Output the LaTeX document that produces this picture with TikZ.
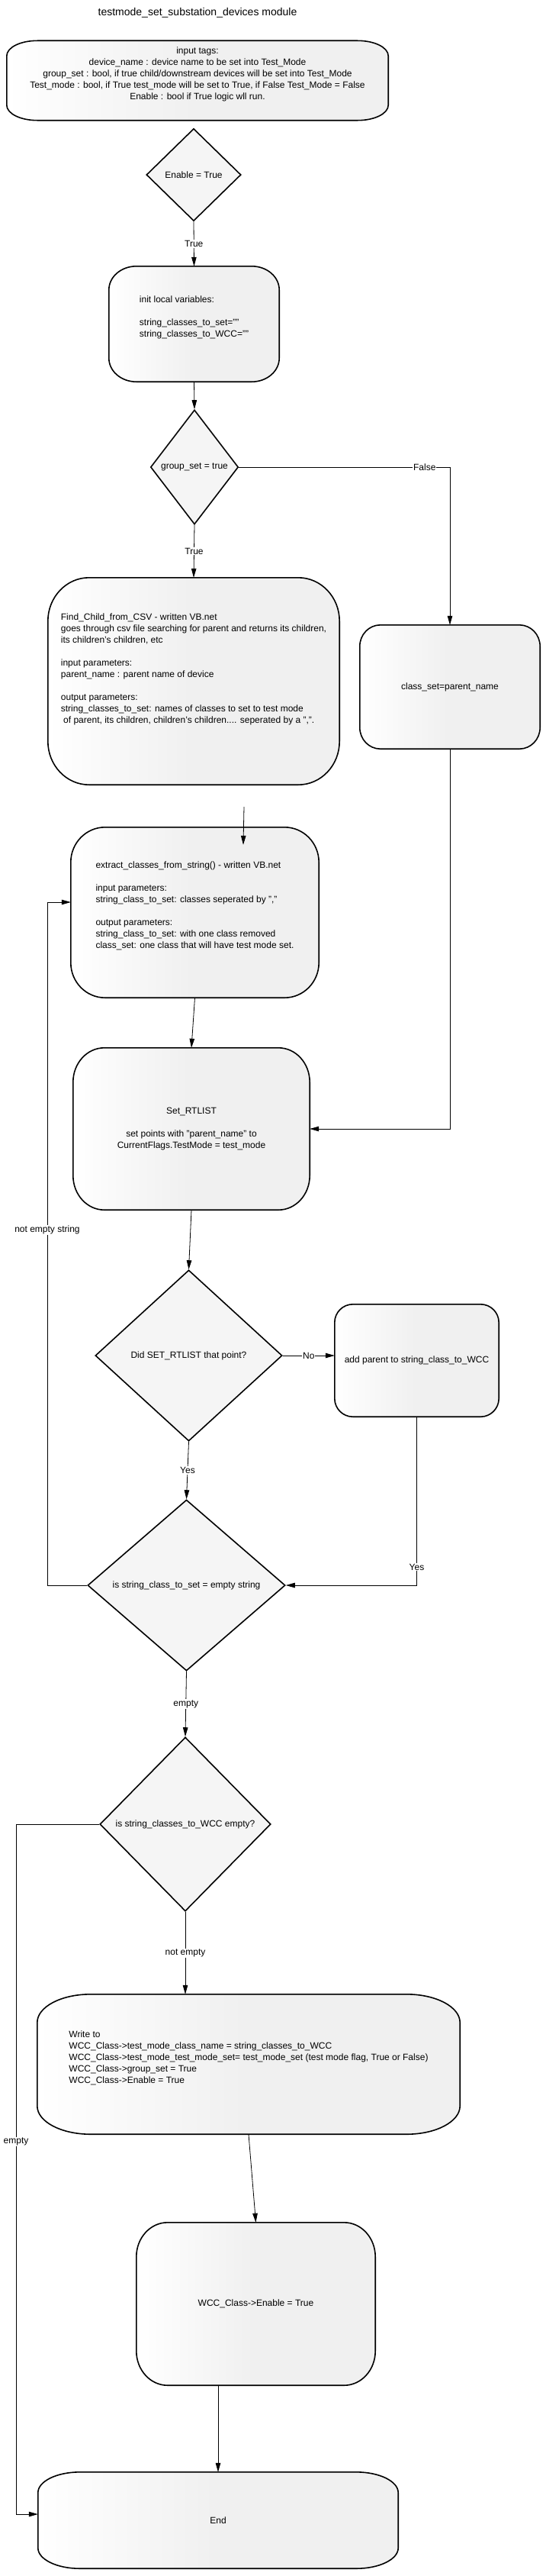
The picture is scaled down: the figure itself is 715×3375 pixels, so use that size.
\documentclass[tikz,border=0pt]{standalone}
\usepackage{fontspec}
\setmainfont{Liberation Sans}
\usetikzlibrary{calc,arrows.meta,shapes.geometric}
\pgfdeclarelayer{cards}
\pgfsetlayers{cards,main}

\tikzset{
  every node/.style={font=\fontsize{12}{15}\selectfont},
  cardtext/.style={inner sep=0pt},
  cardline/.style={draw=black, line width=1.6pt, left color=white, right color=black!6, middle color=black!6},
  decision/.style={diamond, draw=black, line width=1.6pt, fill=black!4, inner sep=0pt},
  flow/.style={line width=0.8pt, -{Triangle[length=12pt,width=6.5pt]}},
  flowlabel/.style={fill=white, inner sep=1pt},
}

% outline of a card with elliptic corners: node, rx, ry
\newcommand{\cardoutline}[3]{%
  \begin{pgfonlayer}{cards}
  \path[cardline] ($(#1.north west)+(#2,0)$) -- ($(#1.north east)+(-#2,0)$)
    arc[start angle=90, end angle=0, x radius=#2pt, y radius=#3pt]
    -- ($(#1.south east)+(0,#3)$)
    arc[start angle=0, end angle=-90, x radius=#2pt, y radius=#3pt]
    -- ($(#1.south west)+(#2,0)$)
    arc[start angle=270, end angle=180, x radius=#2pt, y radius=#3pt]
    -- ($(#1.north west)+(0,-#3)$)
    arc[start angle=180, end angle=90, x radius=#2pt, y radius=#3pt]
    -- cycle;
  \end{pgfonlayer}}

\begin{document}
\begin{tikzpicture}[x=1pt, y=1pt]
  \useasboundingbox (0,0) rectangle (715,-3375);

  % ---- title ----
  \node[font=\fontsize{14}{17}\selectfont] (title) at (259,-17) {testmode\_set\_substation\_devices module};

  % ---- input tags ----
  \node[cardtext, minimum width=500, minimum height=104, align=center] (intags) at (259,-105.5)
    {input tags:\\
     device\_name : device name to be set into Test\_Mode\\
     group\_set : bool, if true child/downstream devices will be set into Test\_Mode\\
     Test\_mode : bool, if True test\_mode will be set to True, if False Test\_Mode = False\\
     Enable : bool if True logic wll run.\\\strut};
  \cardoutline{intags}{40}{20}

  \node[decision, minimum width=124, minimum height=121] (enabletrue) at (254,-229) {Enable = True};

  % ---- init ----
  \node[cardtext, minimum width=223, minimum height=151, align=left] (initvars) at (254.5,-424.5)
    {init local variables:\\[15pt]
     string\_classes\_to\_set=""\\
     string\_classes\_to\_WCC=""\\\strut};
  \cardoutline{initvars}{36}{31}

  \node[decision, minimum width=115, minimum height=150] (groupset) at (255,-612) {group\_set = true};

  % ---- left branch: children ----
  \node[cardtext, minimum width=382, minimum height=271, align=left] (findchild) at (254,-892.5)
    {Find\_Child\_from\_CSV - written VB.net\\
     goes through csv file searching for parent and returns its children,\\
     its children's children, etc\\[15pt]
     input parameters:\\
     parent\_name : parent name of device\\[15pt]
     output parameters:\\
     string\_classes\_to\_set: names of classes to set to test mode\\
     \ of parent, its children, children's children.... seperated by a ",".\\\strut\\\strut};
  \cardoutline{findchild}{54}{57}

  % ---- right branch ----
  \node[cardtext, minimum width=236, minimum height=162] (classset) at (590,-900) {class\_set=parent\_name};
  \cardoutline{classset}{27}{28}

  \node[cardtext, minimum width=325, minimum height=223, align=left] (extract) at (255.5,-1195.5)
    {extract\_classes\_from\_string() - written VB.net\\[15pt]
     input parameters:\\
     string\_class\_to\_set: classes seperated by ","\\[15pt]
     output parameters:\\
     string\_class\_to\_set: with one class removed\\
     class\_set: one class that will have test mode set.\\\strut};
  \cardoutline{extract}{45}{46}

  \node[cardtext, minimum width=310, minimum height=212, align=center] (setrt) at (251,-1479)
    {Set\_RTLIST\\[15pt]
     set points with "parent\_name" to\\
     CurrentFlags.TestMode = test\_mode};
  \cardoutline{setrt}{41}{45}

  \node[decision, minimum width=245, minimum height=224] (didset) at (247.5,-1776) {Did SET\_RTLIST that point?};

  \node[cardtext, minimum width=215, minimum height=147] (addwcc) at (546.5,-1782.5) {add parent to string\_class\_to\_WCC};
  \cardoutline{addwcc}{24}{24}

  \node[decision, minimum width=259, minimum height=224] (isempty) at (244.5,-2077) {is string\_class\_to\_set = empty string};

  \node[decision, minimum width=224, minimum height=228] (wccempty) at (243,-2390) {is string\_classes\_to\_WCC empty?};

  % ---- write to WCC ----
  \node[cardtext, minimum width=554, minimum height=183, align=left] (write) at (326,-2704.5)
    {Write to\\
     WCC\_Class->test\_mode\_class\_name = string\_classes\_to\_WCC\\
     WCC\_Class->test\_mode\_test\_mode\_set= test\_mode\_set (test mode flag, True or False)\\
     WCC\_Class->group\_set = True\\
     WCC\_Class->Enable = True\\\strut};
  \cardoutline{write}{70}{37}

  \node[cardtext, minimum width=313, minimum height=213] (wccenable) at (335.5,-3018.5) {WCC\_Class->Enable = True};
  \cardoutline{wccenable}{41}{45}

  \node[cardtext, minimum width=472, minimum height=126] (endbox) at (286,-3302) {End};
  \cardoutline{endbox}{55}{27}

  % ---- connectors ----
  \coordinate (findout) at ($(findchild.south)+(66,-29)$);
  \coordinate (extractin) at ($(extract.north)+(63.5,-23)$);
  \coordinate (loopleft) at (62,-1182);
  \coordinate (loopfar) at (21,-3294);

  \draw[flow] (enabletrue.south) -- (initvars.north) node[flowlabel, midway] {True};
  \draw[flow] (initvars.south) -- (groupset.north);
  \draw[flow] (groupset.south) -- (findchild.north) node[flowlabel, midway] {True};
  \draw[flow] (groupset.east) -| (classset.north) node[flowlabel, pos=0.44] {False};
  \draw[flow] (findout) -- (extractin);
  \draw[flow] (extract.south) -- (setrt.north);
  \draw[flow] (classset.south) |- (setrt.east);
  \draw[flow] (setrt.south) -- (didset.north);
  \draw[flow] (didset.east) -- (addwcc.west |- didset.east) node[flowlabel, midway] {No};
  \draw[flow] (didset.south) -- (isempty.north) node[flowlabel, midway] {Yes};
  \draw[flow] (addwcc.south) |- (isempty.east) node[flowlabel, pos=0.446] {Yes};
  \draw[flow] (isempty.west) -| (loopleft) node[flowlabel, pos=0.76] {not empty string}
    -- (loopleft -| extract.west);
  \draw[flow] (isempty.south) -- (wccempty.north) node[flowlabel, midway] {empty};
  \draw[flow] (wccempty.south) -- (wccempty.south |- write.north) node[flowlabel, midway] {not empty};
  \draw[flow] (wccempty.west) -| (loopfar) node[flowlabel, pos=0.73] {empty}
    -- (loopfar -| endbox.west);
  \draw[flow] (write.south) -- (wccenable.north);
  \draw[flow] (endbox.north |- wccenable.south) -- (endbox.north);

\end{tikzpicture}
\end{document}
